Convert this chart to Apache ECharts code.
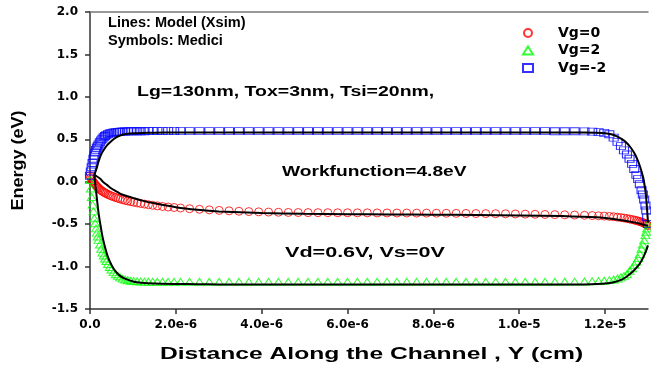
<!DOCTYPE html>
<html>
<head>
<meta charset="utf-8">
<script src="https://cdn.jsdelivr.net/npm/echarts@6/dist/echarts.min.js"></script>
<style>
  html, body { margin: 0; padding: 0; background: #fff; }
  #chart { width: 651px; height: 370px; }
</style>
</head>
<body>
<div id="chart"></div>
<script>
// Positions along the channel, in units of 1e-6 cm (Medici symbols)
const channelPos = [
  0, 0.02, 0.04, 0.06, 0.08, 0.1, 0.12, 0.14, 0.16, 0.18, 0.2, 0.23, 0.26, 0.29, 0.32, 0.35, 0.38, 0.42, 0.46, 0.5,
  0.55, 0.6, 0.65, 0.7, 0.76, 0.82, 0.88, 0.95, 1.02, 1.1, 1.18, 1.27, 1.36, 1.46, 1.57, 1.69, 1.82, 1.96, 2.11,
  2.32, 2.55, 2.78, 3.01, 3.24, 3.47, 3.70, 3.93, 4.16, 4.39, 4.62, 4.85, 5.08, 5.31, 5.54, 5.77, 6.00, 6.23, 6.46, 6.69,
  6.92, 7.15, 7.38, 7.61, 7.84, 8.07, 8.30, 8.53, 8.76, 8.99, 9.22, 9.45, 9.68, 9.91, 10.14, 10.37, 10.60, 10.83, 11.06, 11.29, 11.52,
  11.7, 11.85, 11.98, 12.1, 12.2, 12.29, 12.37, 12.44, 12.51, 12.57, 12.63, 12.68, 12.73, 12.77, 12.81, 12.85, 12.88, 12.91, 12.94, 12.96, 12.98, 13.0
];
// Medici symbols, energy (eV)
const mediciVg0 = [
  0.07, 0.05, 0.03, 0.01, -0.005, -0.02, -0.033, -0.045, -0.056, -0.066, -0.076, -0.09, -0.102, -0.113, -0.123, -0.132, -0.14, -0.15, -0.16, -0.168,
  -0.178, -0.187, -0.195, -0.203, -0.212, -0.22, -0.227, -0.235, -0.242, -0.25, -0.257, -0.264, -0.271, -0.278, -0.285, -0.292, -0.298, -0.304, -0.31,
  -0.318, -0.325, -0.332, -0.338, -0.343, -0.348, -0.352, -0.355, -0.358, -0.36, -0.362, -0.363, -0.364, -0.365, -0.365, -0.366, -0.366, -0.367, -0.367, -0.368,
  -0.368, -0.369, -0.369, -0.37, -0.37, -0.371, -0.372, -0.373, -0.374, -0.375, -0.376, -0.377, -0.378, -0.38, -0.382, -0.384, -0.386, -0.388, -0.39, -0.393, -0.396,
  -0.399, -0.402, -0.405, -0.409, -0.413, -0.418, -0.423, -0.428, -0.434, -0.44, -0.446, -0.452, -0.458, -0.464, -0.47, -0.476, -0.482, -0.488, -0.495, -0.50, -0.51, -0.52
];
const mediciVg2 = [
  0.02, -0.08, -0.18, -0.27, -0.35, -0.43, -0.49, -0.55, -0.60, -0.645, -0.685, -0.74, -0.79, -0.835, -0.87, -0.905, -0.935, -0.97, -1.005, -1.035,
  -1.065, -1.09, -1.11, -1.127, -1.142, -1.153, -1.161, -1.167, -1.171, -1.174, -1.176, -1.178, -1.179, -1.18, -1.18, -1.18, -1.18, -1.18, -1.18,
  -1.18, -1.18, -1.18, -1.18, -1.18, -1.18, -1.18, -1.18, -1.18, -1.18, -1.18, -1.18, -1.18, -1.18, -1.18, -1.18, -1.18, -1.18, -1.18, -1.18,
  -1.18, -1.18, -1.18, -1.18, -1.18, -1.18, -1.18, -1.18, -1.18, -1.18, -1.18, -1.18, -1.18, -1.18, -1.18, -1.18, -1.18, -1.18, -1.179, -1.178, -1.176,
  -1.174, -1.171, -1.167, -1.16, -1.152, -1.14, -1.126, -1.11, -1.09, -1.05, -1.02, -0.98, -0.94, -0.90, -0.85, -0.79, -0.74, -0.69, -0.63, -0.59, -0.55, -0.50
];
const mediciVgm2 = [
  0.07, 0.12, 0.17, 0.22, 0.27, 0.31, 0.345, 0.375, 0.40, 0.42, 0.44, 0.465, 0.487, 0.507, 0.524, 0.538, 0.549, 0.561, 0.57, 0.576,
  0.581, 0.585, 0.588, 0.59, 0.591, 0.592, 0.593, 0.594, 0.594, 0.595, 0.595, 0.595, 0.596, 0.596, 0.596, 0.596, 0.596, 0.596, 0.596,
  0.596, 0.596, 0.596, 0.596, 0.596, 0.596, 0.596, 0.596, 0.596, 0.596, 0.596, 0.596, 0.596, 0.596, 0.596, 0.596, 0.596, 0.596, 0.596, 0.596,
  0.596, 0.596, 0.596, 0.596, 0.596, 0.596, 0.596, 0.596, 0.596, 0.596, 0.596, 0.596, 0.596, 0.596, 0.596, 0.596, 0.596, 0.595, 0.595, 0.594, 0.593,
  0.59, 0.585, 0.575, 0.56, 0.52, 0.47, 0.42, 0.37, 0.32, 0.27, 0.21, 0.15, 0.08, 0.03, -0.03, -0.10, -0.15, -0.21, -0.28, -0.34, -0.42, -0.50
];
// Model (Xsim) lines
const modelPos = [
  0.1, 0.15, 0.2, 0.25, 0.3, 0.4, 0.5, 0.6, 0.7, 0.8, 1.0, 1.2, 1.5, 2, 2.5, 3, 4, 5, 6, 7, 8, 9, 10, 11,
  11.5, 11.8, 12.0, 12.2, 12.4, 12.5, 12.6, 12.7, 12.8, 12.85, 12.9, 12.95, 13.0
];
const modelVg0 = [
  0.08, 0.065, 0.05, 0.03, 0.0, -0.04, -0.08, -0.11, -0.14, -0.16, -0.19, -0.22, -0.255, -0.30, -0.33, -0.35, -0.37, -0.378, -0.382, -0.385, -0.388, -0.392, -0.397, -0.405,
  -0.413, -0.42, -0.428, -0.44, -0.455, -0.463, -0.472, -0.482, -0.493, -0.50, -0.507, -0.514, -0.52
];
const modelVg2 = [
  0.08, -0.15, -0.37, -0.53, -0.67, -0.86, -0.98, -1.06, -1.11, -1.14, -1.175, -1.19, -1.2, -1.205, -1.208, -1.21, -1.21, -1.21, -1.21, -1.21, -1.21, -1.21, -1.21, -1.21,
  -1.21, -1.205, -1.20, -1.185, -1.15, -1.12, -1.08, -1.03, -0.97, -0.93, -0.88, -0.82, -0.75
];
const modelVgm2 = [
  0.08, 0.15, 0.24, 0.31, 0.36, 0.43, 0.48, 0.52, 0.545, 0.56, 0.57, 0.575, 0.578, 0.58, 0.58, 0.58, 0.58, 0.58, 0.58, 0.58, 0.58, 0.58, 0.58, 0.58,
  0.579, 0.577, 0.57, 0.55, 0.50, 0.46, 0.40, 0.32, 0.20, 0.12, 0.02, -0.15, -0.48
];
const seriesNames = ['Vg=0', 'Vg=2', 'Vg=-2'];
const xTickValues = [0, 2, 4, 6, 8, 10, 12];
const yTicks = { min: -1.5, max: 2.0, step: 0.5 };

function pairs(xs, ys) { return xs.map((x, i) => [x, ys[i]]); }

const tickFont = { fontFamily: '"DejaVu Sans", sans-serif', fontWeight: 'bold', fontSize: 12, color: '#000' };

function note(text, x, y, sx, size) {
  return {
    type: 'text', x: x, y: y, scaleX: sx, silent: true,
    style: {
      text: text, fill: '#000',
      font: 'bold ' + (size || 14) + 'px "Liberation Sans", Arial, sans-serif',
      textAlign: 'left', textVerticalAlign: 'middle', align: 'left', verticalAlign: 'middle'
    }
  };
}

const chart = echarts.init(document.getElementById('chart'), null, { renderer: 'canvas' });

function symbolSeries(name, ys, symbol, color, size) {
  return {
    name: name, type: 'scatter', data: pairs(channelPos, ys),
    symbol: symbol, symbolSize: size,
    itemStyle: { color: 'rgba(0,0,0,0)', borderColor: color, borderWidth: 1 },
    z: 2
  };
}
function modelSeries(name, ys) {
  return {
    name: name, type: 'line', data: pairs(modelPos, ys),
    showSymbol: false, symbol: 'none', smooth: 0.2,
    lineStyle: { color: '#000', width: 2 }, z: 5
  };
}

chart.setOption({
  animation: false,
  backgroundColor: '#fff',
  grid: { left: 90, right: 3, top: 12, bottom: 61, containLabel: false },
  xAxis: [{
    type: 'value', min: 0, max: 13, position: 'bottom',
    axisLine: { show: true, onZero: false, lineStyle: { color: '#333', width: 1.5 } },
    axisTick: { show: true, inside: false, length: 5, customValues: xTickValues, lineStyle: { color: '#333', width: 1.5 } },
    axisLabel: {
      ...tickFont, margin: 10, customValues: xTickValues,
      formatter: v => v === 0 ? '0.0' : (v * 1e-6).toExponential(1)
    },
    splitLine: { show: false }
  }, {
    type: 'value', min: 0, max: 13, position: 'top',
    axisLine: { show: true, onZero: false, lineStyle: { color: '#777', width: 1.5 } },
    axisTick: { show: false }, axisLabel: { show: false }, splitLine: { show: false }
  }],
  yAxis: {
    type: 'value', min: yTicks.min, max: yTicks.max, interval: yTicks.step,
    axisLine: { show: true, onZero: false, lineStyle: { color: '#333', width: 1.5 } },
    axisTick: { show: true, inside: false, length: 5, lineStyle: { color: '#333', width: 1.5 } },
    axisLabel: { ...tickFont, margin: 12, formatter: v => v.toFixed(1) },
    splitLine: { show: false }
  },
  legend: {
    data: seriesNames, orient: 'vertical', left: 517, top: 21,
    itemWidth: 10, itemHeight: 8, itemGap: 3.5,
    textStyle: { fontFamily: '"DejaVu Sans", sans-serif', fontWeight: 'bold', fontSize: 14, color: '#000', padding: [0, 0, 0, 20] },
    selectedMode: false
  },
  graphic: [
    note('Lines: Model (Xsim)', 108, 23.5, 1.04),
    note('Symbols: Medici', 108, 41.5, 1.04),
    note('Lg=130nm, Tox=3nm, Tsi=20nm,', 137, 92, 1.39),
    note('Workfunction=4.8eV', 282, 172, 1.37),
    note('Vd=0.6V, Vs=0V', 285, 253, 1.54),
    {
      type: 'text', x: 18, y: 160.5, rotation: Math.PI / 2, scaleX: 1.06, silent: true,
      style: { text: 'Energy (eV)', fill: '#000', font: 'bold 17px "Liberation Sans", Arial, sans-serif',
        textAlign: 'center', textVerticalAlign: 'middle', align: 'center', verticalAlign: 'middle' }
    },
    {
      type: 'text', x: 371.5, y: 354.5, scaleX: 1.45, silent: true,
      style: { text: 'Distance Along the Channel , Y (cm)', fill: '#000', font: 'bold 17px "Liberation Sans", Arial, sans-serif',
        textAlign: 'center', textVerticalAlign: 'middle', align: 'center', verticalAlign: 'middle' }
    }
  ],
  series: [
    symbolSeries(seriesNames[0], mediciVg0, 'circle', '#ff0000', 8),
    symbolSeries(seriesNames[1], mediciVg2, 'triangle', '#00ff00', [9, 7]),
    symbolSeries(seriesNames[2], mediciVgm2, 'rect', '#0000ff', [9, 7]),
    modelSeries('Model Vg=0', modelVg0),
    modelSeries('Model Vg=2', modelVg2),
    modelSeries('Model Vg=-2', modelVgm2)
  ]
});
</script>
</body>
</html>
